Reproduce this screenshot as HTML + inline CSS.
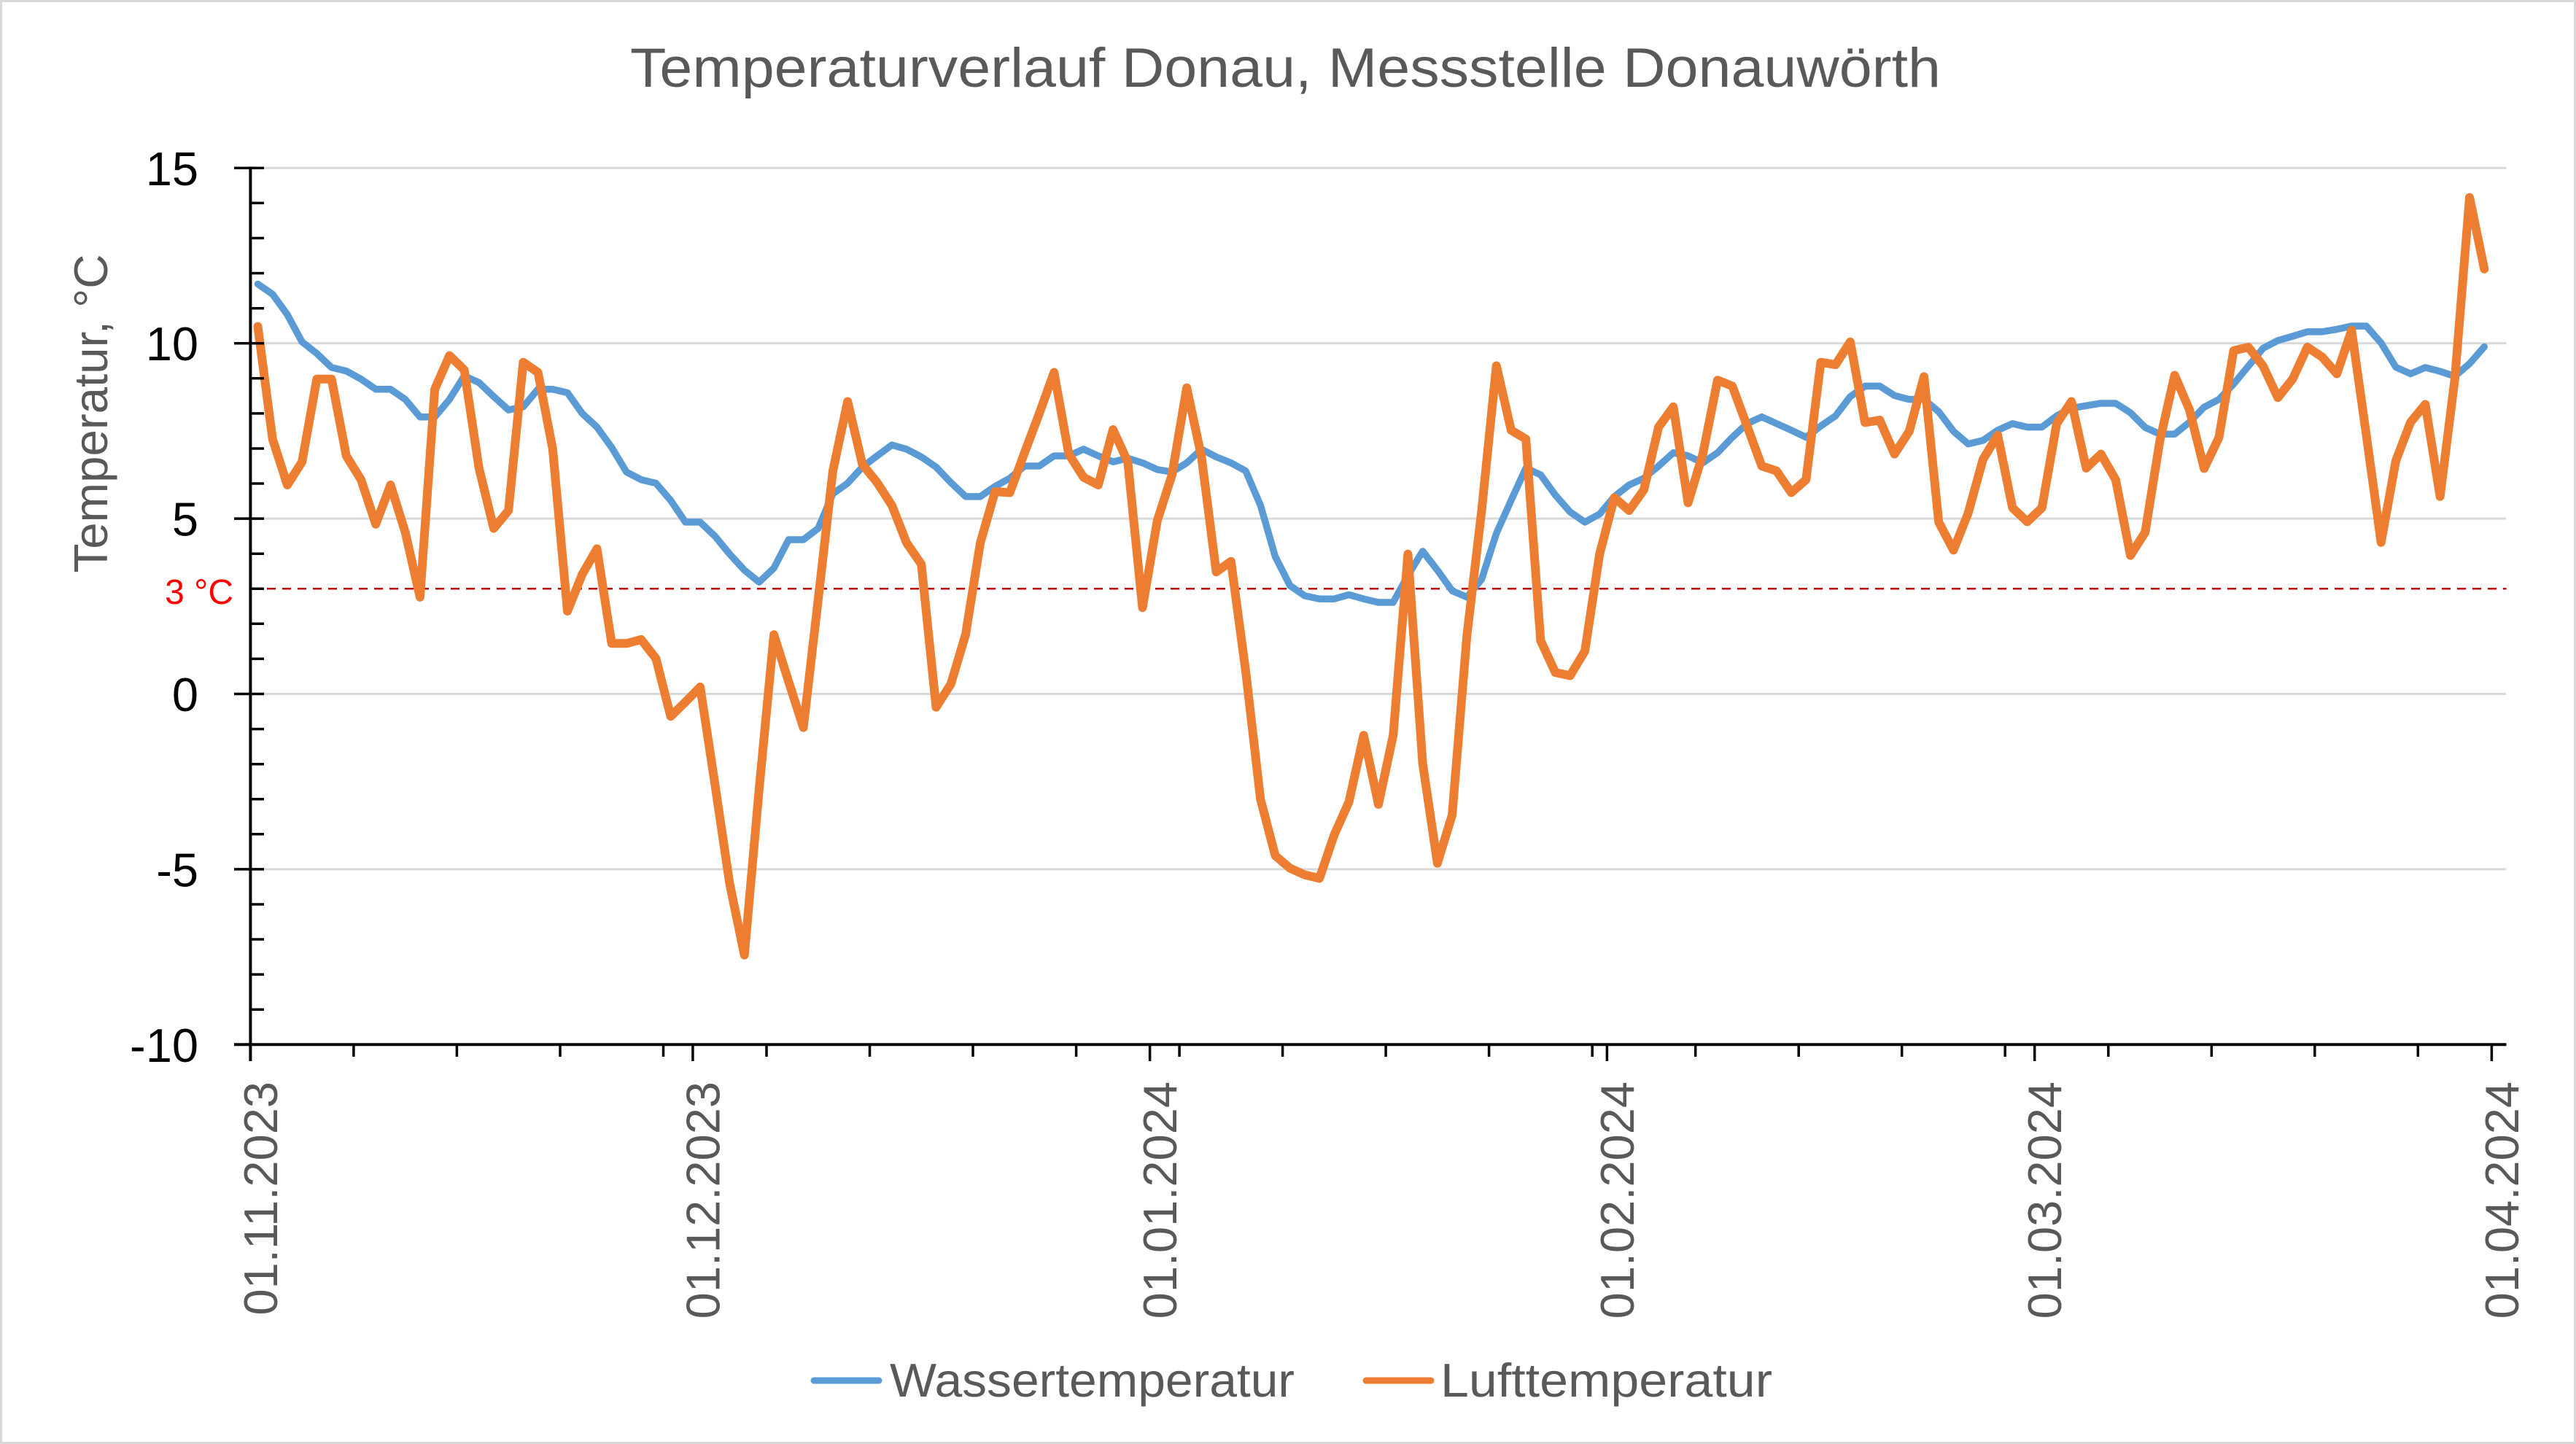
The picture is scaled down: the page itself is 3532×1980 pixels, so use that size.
<!DOCTYPE html>
<html>
<head>
<meta charset="utf-8">
<style>
html,body{margin:0;padding:0;background:#D9D9D9;}
svg{display:block;}
text{font-family:"Liberation Sans",Arial,sans-serif;}
</style>
</head>
<body>
<svg width="3532" height="1980" viewBox="0 0 3532 1980" xmlns="http://www.w3.org/2000/svg">
<rect x="0" y="0" width="3532" height="1980" fill="#D9D9D9"/>
<rect x="3" y="3" width="3526" height="1974" fill="#FFFFFF"/>

<!-- Title -->
<text x="864" y="119" font-size="76" fill="#595959" textLength="1797" lengthAdjust="spacingAndGlyphs">Temperaturverlauf Donau, Messstelle Donauwörth</text>

<!-- Gridlines -->
<g stroke="#D9D9D9" stroke-width="3">
<line x1="343" y1="230.4" x2="3436.5" y2="230.4"/>
<line x1="343" y1="470.7" x2="3436.5" y2="470.7"/>
<line x1="343" y1="711.1" x2="3436.5" y2="711.1"/>
<line x1="343" y1="951.5" x2="3436.5" y2="951.5"/>
<line x1="343" y1="1191.9" x2="3436.5" y2="1191.9"/>
</g>

<!-- 3 °C dashed line -->
<line x1="345" y1="807.3" x2="3436.5" y2="807.3" stroke="#C00000" stroke-width="2.5" stroke-dasharray="12,9"/>
<text x="320" y="828" font-size="48" fill="#FF0000" text-anchor="end">3 °C</text>

<!-- Series -->
<g transform="matrix(20.217,0,0,-48.076,353.5,951.5)" fill="none" stroke-linejoin="round" stroke-linecap="round">
<polyline vector-effect="non-scaling-stroke" stroke="#5B9BD5" stroke-width="9.5" points="0,11.69 1,11.40 2,10.82 3,10.04 4,9.71 5,9.31 6,9.21 7,8.98 8,8.69 9,8.69 10,8.40 11,7.90 12,7.90 13,8.40 14,9.07 15,8.88 16,8.48 17,8.10 18,8.19 19,8.69 20,8.69 21,8.59 22,8.00 23,7.61 24,7.03 25,6.33 26,6.11 27,6.01 28,5.52 29,4.90 30,4.90 31,4.50 32,3.99 33,3.53 34,3.19 35,3.59 36,4.40 37,4.40 38,4.72 39,5.71 40,6.01 41,6.47 42,6.79 43,7.10 44,6.98 45,6.76 46,6.47 47,6.03 48,5.63 49,5.63 50,5.92 51,6.15 52,6.50 53,6.50 54,6.79 55,6.79 56,6.98 57,6.79 58,6.62 59,6.72 60,6.59 61,6.40 62,6.33 63,6.59 64,6.98 65,6.76 66,6.59 67,6.36 68,5.38 69,3.92 70,3.09 71,2.80 72,2.71 73,2.71 74,2.83 75,2.71 76,2.61 77,2.61 78,3.38 79,4.07 80,3.53 81,2.94 82,2.76 83,3.27 84,4.58 85,5.52 86,6.44 87,6.25 88,5.67 89,5.19 90,4.90 91,5.13 92,5.63 93,5.96 94,6.15 95,6.50 96,6.88 97,6.79 98,6.59 99,6.88 100,7.32 101,7.71 102,7.90 103,7.71 104,7.52 105,7.32 106,7.64 107,7.93 108,8.48 109,8.78 110,8.78 111,8.51 112,8.40 113,8.40 114,8.05 115,7.49 116,7.13 117,7.23 118,7.52 119,7.71 120,7.61 121,7.61 122,7.93 123,8.15 124,8.22 125,8.29 126,8.29 127,8.02 128,7.60 129,7.41 130,7.41 131,7.75 132,8.18 133,8.40 134,8.84 135,9.35 136,9.86 137,10.08 138,10.20 139,10.33 140,10.33 141,10.40 142,10.49 143,10.49 144,10.01 145,9.32 146,9.13 147,9.31 148,9.20 149,9.06 150,9.42 151,9.90"/>
<polyline vector-effect="non-scaling-stroke" stroke="#ED7D31" stroke-width="12" points="0,10.48 1,7.27 2,5.96 3,6.62 4,8.98 5,8.98 6,6.79 7,6.11 8,4.84 9,5.96 10,4.61 11,2.76 12,8.69 13,9.65 14,9.24 15,6.44 16,4.72 17,5.23 18,9.46 19,9.17 20,6.98 21,2.36 22,3.41 23,4.14 24,1.44 25,1.44 26,1.55 27,1.01 28,-0.64 29,-0.23 30,0.20 31,-2.57 32,-5.41 33,-7.45 34,-2.71 35,1.69 36,0.35 37,-0.96 38,2.68 39,6.36 40,8.34 41,6.55 42,6.03 43,5.38 44,4.31 45,3.70 46,-0.38 47,0.28 48,1.69 49,4.31 50,5.77 51,5.74 52,6.88 53,8.00 54,9.17 55,6.84 56,6.18 57,5.96 58,7.54 59,6.62 60,2.46 61,4.94 62,6.25 63,8.73 64,6.76 65,3.48 66,3.78 67,0.64 68,-3.00 69,-4.61 70,-4.97 71,-5.16 72,-5.26 73,-4.02 74,-3.08 75,-1.18 76,-3.15 77,-1.18 78,3.99 79,-1.98 80,-4.83 81,-3.45 82,1.66 83,5.23 84,9.36 85,7.52 86,7.27 87,1.52 88,0.61 89,0.52 90,1.22 91,3.99 92,5.60 93,5.23 94,5.82 95,7.61 96,8.19 97,5.45 98,6.84 99,8.95 100,8.78 101,7.64 102,6.50 103,6.36 104,5.74 105,6.11 106,9.46 107,9.39 108,10.04 109,7.74 110,7.81 111,6.84 112,7.49 113,9.05 114,4.90 115,4.10 116,5.16 117,6.69 118,7.38 119,5.31 120,4.91 121,5.31 122,7.71 123,8.34 124,6.44 125,6.84 126,6.11 127,3.95 128,4.61 129,7.23 130,9.09 131,8.11 132,6.43 133,7.31 134,9.79 135,9.89 136,9.35 137,8.45 138,8.98 139,9.89 140,9.61 141,9.13 142,10.37 143,7.38 144,4.32 145,6.65 146,7.75 147,8.26 148,5.63 149,8.98 150,14.16 151,12.12"/>
</g>

<!-- Axes -->
<g stroke="#000000" fill="none">
<line x1="343.4" y1="228.5" x2="343.4" y2="1455" stroke-width="4"/>
<line x1="321" y1="1432.3" x2="3436.5" y2="1432.3" stroke-width="4"/>
<path stroke-width="3.5" d="M321 230.4H362 M321 470.7H362 M321 711.1H362 M321 951.5H362 M321 1191.9H362"/>
<path stroke-width="3.5" d="M343 278.4H362 M343 326.5H362 M343 374.6H362 M343 422.7H362 M343 518.8H362 M343 566.9H362 M343 615H362 M343 663H362 M343 759.2H362 M343 807.3H362 M343 855.3H362 M343 903.4H362 M343 999.6H362 M343 1047.7H362 M343 1095.7H362 M343 1143.8H362 M343 1240H362 M343 1288H362 M343 1336.1H362 M343 1384.2H362"/>
<path stroke-width="3.5" d="M949.9 1432V1455 M1576.6 1432V1455 M2203.4 1432V1455 M2789.7 1432V1455 M3416.4 1432V1455"/>
<path stroke-width="3.5" d="M484.9 1432V1449 M626.4 1432V1449 M768 1432V1449 M909.5 1432V1449 M1051 1432V1449 M1192.5 1432V1449 M1334 1432V1449 M1475.6 1432V1449 M1617.1 1432V1449 M1758.6 1432V1449 M1900.1 1432V1449 M2041.6 1432V1449 M2183.2 1432V1449 M2324.7 1432V1449 M2466.2 1432V1449 M2607.7 1432V1449 M2749.2 1432V1449 M2890.8 1432V1449 M3032.3 1432V1449 M3173.8 1432V1449 M3315.3 1432V1449"/>
</g>

<!-- Y tick labels -->
<g font-size="65" fill="#000000" text-anchor="end">
<text x="272" y="253.9">15</text>
<text x="272" y="494.2">10</text>
<text x="272" y="734.6">5</text>
<text x="272" y="975">0</text>
<text x="272" y="1215.4">-5</text>
<text x="272" y="1455.8">-10</text>
</g>

<!-- Y axis title -->
<text transform="translate(147,567) rotate(-90)" font-size="65" fill="#595959" text-anchor="middle" textLength="437" lengthAdjust="spacingAndGlyphs">Temperatur, °C</text>

<!-- X tick labels -->
<g font-size="65" fill="#595959" text-anchor="end">
<text transform="translate(379.9,1483) rotate(-90)">01.11.2023</text>
<text transform="translate(986.4,1483) rotate(-90)">01.12.2023</text>
<text transform="translate(1613.1,1483) rotate(-90)">01.01.2024</text>
<text transform="translate(2239.9,1483) rotate(-90)">01.02.2024</text>
<text transform="translate(2826.2,1483) rotate(-90)">01.03.2024</text>
<text transform="translate(3452.9,1483) rotate(-90)">01.04.2024</text>
</g>

<!-- Legend -->
<line x1="1116" y1="1893" x2="1205" y2="1893" stroke="#5B9BD5" stroke-width="9" stroke-linecap="round"/>
<text x="1220" y="1915" font-size="65" fill="#595959" textLength="555" lengthAdjust="spacingAndGlyphs">Wassertemperatur</text>
<line x1="1873" y1="1893" x2="1962" y2="1893" stroke="#ED7D31" stroke-width="9" stroke-linecap="round"/>
<text x="1975" y="1915" font-size="65" fill="#595959" textLength="455" lengthAdjust="spacingAndGlyphs">Lufttemperatur</text>
</svg>
</body>
</html>
